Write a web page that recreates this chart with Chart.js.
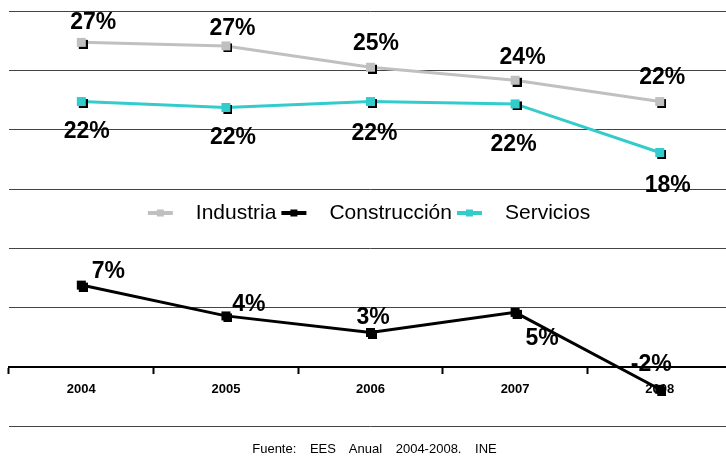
<!DOCTYPE html>
<html lang="es">
<head>
<meta charset="UTF-8">
<title>Variación salarial por sector</title>
<script src="https://cdn.jsdelivr.net/npm/chart.js"></script>
<style>
    html, body { margin: 0; padding: 0; background: #fff; overflow: hidden; }
    #wrap { position: relative; width: 726px; height: 457px; overflow: hidden; }
    #chart { position: absolute; left: 0; top: 0; }
    #fuente {
        position: absolute; left: 0; width: 749px; top: 441px;
        text-align: center; font: 13px "Liberation Sans", Arial, sans-serif;
        line-height: 15px; word-spacing: 10px; color: #000;
    }
</style>
</head>
<body>
<div id="wrap">
    <canvas id="chart" width="740" height="457"></canvas>
    <div id="fuente">Fuente: EES Anual 2004-2008. INE</div>
</div>

<script>
    // data (% change)
    const years = ['2004', '2005', '2006', '2007', '2008'];
    const industria = [27.4, 27.1, 25.3, 24.2, 22.4];
    const construccion = [6.9, 4.3, 2.9, 4.6, -1.9];
    const servicios = [22.4, 21.9, 22.4, 22.2, 18.1];
    const gridValues = [-5, 0, 5, 10, 15, 20, 25, 30];

    // where each value label sits relative to its point (dx, dy)
    const labelOffsets = {
        Industria: [[12, -20], [6.5, -17], [5.5, -24], [7.5, -23], [2.5, -24]],
        'Construcción': [[27, -13.5], [23, -11.5], [2.5, -15], [27, 26.5], [-8.5, -24.5]],
        Servicios: [[5.5, 30.5], [7, 30.5], [4, 32], [-1.5, 40.5], [8, 33]]
    };

    const FONT = '"Liberation Sans", Arial, sans-serif';

    // square marker with a small black drop shadow
    function marker(color) {
        const c = document.createElement('canvas');
        c.width = 13; c.height = 13;
        const g = c.getContext('2d');
        g.fillStyle = '#000';
        g.fillRect(4, 4, 9, 9);
        g.fillStyle = color;
        g.fillRect(2, 2, 9, 9);
        return c;
    }

    const valueLabels = {
        id: 'valueLabels',
        afterDatasetsDraw(chart) {
            const ctx = chart.ctx;
            ctx.save();
            ctx.font = 'bold 23px ' + FONT;
            ctx.fillStyle = '#000';
            ctx.textAlign = 'center';
            ctx.textBaseline = 'middle';
            chart.data.datasets.forEach((ds, i) => {
                const meta = chart.getDatasetMeta(i);
                const offs = labelOffsets[ds.label];
                meta.data.forEach((pt, j) => {
                    const txt = Math.round(ds.data[j]) + '%';
                    ctx.fillText(txt, pt.x + offs[j][0], pt.y + offs[j][1]);
                });
            });
            ctx.restore();
        }
    };

    // legend drawn inside the plot, in the gap between the two groups
    const innerLegend = {
        id: 'innerLegend',
        afterDatasetsDraw(chart) {
            const ctx = chart.ctx;
            const y = 213;
            ctx.save();
            ctx.font = '21px ' + FONT;
            const items = chart.data.datasets.map(ds => ({
                label: ds.label, color: ds.borderColor, w: ctx.measureText(ds.label).width
            }));
            const total = items.reduce((s, it) => s + 48 + it.w + 5, 0) - 5;
            let x = 369 - total / 2;
            items.forEach(it => {
                ctx.strokeStyle = it.color;
                ctx.lineWidth = 4;
                ctx.beginPath();
                ctx.moveTo(x, y);
                ctx.lineTo(x + 25, y);
                ctx.stroke();
                ctx.fillStyle = it.color;
                ctx.fillRect(x + 9, y - 3.5, 7, 7);
                ctx.fillStyle = '#000';
                ctx.textAlign = 'left';
                ctx.textBaseline = 'middle';
                ctx.fillText(it.label, x + 48, y);
                x += 48 + it.w + 5;
            });
            ctx.restore();
        }
    };

    function series(label, data, color) {
        return {
            label: label,
            data: data,
            borderColor: color,
            backgroundColor: color,
            borderWidth: 3,
            tension: 0,
            pointStyle: marker(color),
            pointRadius: 5,
            pointHoverRadius: 5
        };
    }

    new Chart(document.getElementById('chart'), {
        type: 'line',
        data: {
            labels: years,
            datasets: [
                series('Industria', industria, '#C0C0C0'),
                series('Construcción', construccion, '#000000'),
                series('Servicios', servicios, '#33CCCC')
            ]
        },
        options: {
            responsive: false,
            animation: false,
            layout: { padding: { left: 9, right: 8, top: 0, bottom: 31 } },
            plugins: {
                legend: { display: false },
                tooltip: { enabled: false }
            },
            scales: {
                x: {
                    type: 'category',
                    offset: true,
                    position: { y: 0 },
                    grid: {
                        offset: true,
                        drawOnChartArea: false,
                        drawTicks: true,
                        tickLength: 6,
                        tickWidth: 2,
                        tickColor: '#000'
                    },
                    border: { display: true, color: '#000', width: 2 },
                    ticks: {
                        color: '#000',
                        padding: 9,
                        font: { family: FONT, size: 13, weight: 'bold' },
                        maxRotation: 0
                    }
                },
                y: {
                    min: -5,
                    max: 30.3,
                    afterBuildTicks: scale => {
                        scale.ticks = gridValues.map(v => ({ value: v }));
                    },
                    afterFit: scale => { scale.width = 0; },
                    ticks: { display: false },
                    grid: { color: '#444', lineWidth: 1, drawTicks: false },
                    border: { display: false }
                }
            }
        },
        plugins: [valueLabels, innerLegend]
    });
</script>
</body>
</html>
